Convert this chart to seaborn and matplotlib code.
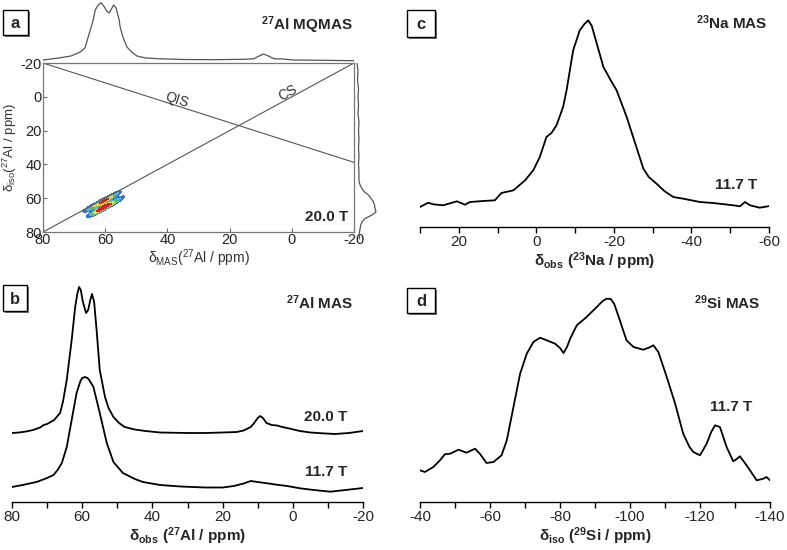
import numpy as np
import pandas as pd
import seaborn as sns
import matplotlib as mpl
import matplotlib.pyplot as plt
from matplotlib.colors import ListedColormap
from matplotlib.patches import Rectangle
from matplotlib.ticker import MultipleLocator

# --- datos ---
# a) 27Al MQMAS: proyeccion superior (dimension MAS)
top_ppm = [80, 75, 71, 68, 66.5, 65, 64, 63.2, 62.3, 61.3, 60.5, 59.5, 58.7, 58, 57.3, 56.5,
           55.5, 55.2, 54.2, 53, 51.5, 49.8, 47, 43, 35, 25, 15, 12.2, 10.5, 9.1, 7.5, 5.8,
           3, -0.6, -10, -20]
top_int = [2, 4, 6, 10, 14, 30, 40, 52, 57, 59.3, 56, 51, 49, 53, 57, 54,
           42, 35, 24, 15, 10, 6, 4, 3.3, 2.5, 2.3, 2.7, 3.3, 6, 8, 6, 3.3,
           3, 2, 1.7, 1.3]
# proyeccion derecha (dimension isotropica)
right_ppm = [-20, -15, -10, -5, 0, 5, 10, 15, 20, 25, 30, 35, 40, 45, 50, 52, 54, 56, 58,
             60, 62, 64, 66, 68, 70, 72, 74, 76, 80, 84]
right_int = [3, 4, 3.5, 4.5, 4, 4.5, 4, 5, 4.5, 5, 4.5, 5, 4.5, 5, 5, 6, 7.7, 10, 14.3,
             17, 19.3, 20.5, 21, 22, 17.7, 11, 8, 6.7, 5.5, 5.3]
# muestras de la senal 2D (cresta del pico)
mq_x = [65.5, 64.5, 63.5, 62.5, 61.5, 61, 60.5, 60, 59.5, 58.5, 57.5, 56.5, 55.5]
mq_y = [66.5, 69.5, 64.5, 68.0, 62.5, 66.0, 64.5, 61.5, 64.5, 59.5, 63.0, 57.5, 60.5]
# lineas CS y QIS
cs_x = [80, -20]
cs_y = [80, -20]
qis_x = [80, -20]
qis_y = [-20, 38.8]

# b) 27Al MAS
al20_ppm = [80, 78, 76, 74, 72, 71, 70, 68, 66.3, 65.5, 64.4, 63, 62, 61.4, 60.9, 60.4, 59.8,
            58.9, 58.3, 57.7, 57.2, 56.6, 55.9, 55, 53.5, 52.5, 51.1, 49.5, 47.9, 45, 42, 37.8,
            30, 25, 20, 16, 14, 12, 11, 10, 9.3, 8.5, 7.5, 6, 4.5, 3, 1, -2, -5, -8, -12, -16, -20]
al20_int = [69, 69.5, 70.5, 72, 74.5, 77, 78, 82, 89, 100, 122, 162, 195, 208, 215, 212, 200,
            189, 192, 202, 208, 200, 172, 132, 105, 94, 85, 79, 75, 72.5, 71, 69.5,
            69, 69, 69.5, 70, 71.5, 75, 79, 84, 86, 84, 79, 77, 76.5, 75, 73.5, 71, 69.5, 68.8, 68, 69, 71]
al11_ppm = [80, 77, 73, 70, 68.2, 67, 65.8, 64.4, 63, 61.6, 60.5, 60, 59.2, 58.5, 58, 56.8, 55,
            53, 51.1, 48.4, 45, 42.7, 37.8, 32, 25, 20, 16.8, 14, 12, 10, 7.3, 4, 1.6, -2, -6,
            -10.7, -15, -20]
al11_int = [15, 17, 20, 24, 27, 32, 39, 55, 82, 109, 121, 124, 125, 124, 122, 115, 89,
            59, 40, 29, 23, 20, 17, 15.5, 14.5, 14.5, 16, 18.5, 21, 20, 18.7, 17, 16, 13.7, 12,
            10.3, 12, 14]

# c) 23Na MAS
na_ppm = [30, 27.9, 26.6, 24, 20.5, 18.4, 17.1, 13.7, 10.7, 9, 5.9, 2.9, 0.8, -0.9, -2.6, -3.9,
          -5.2, -6.9, -7.8, -9.5, -11.2, -12.4, -13.4, -14.3, -15.1, -17.3, -19, -20.7, -23.3,
          -25.8, -27.6, -29, -31, -33, -35.3, -37.9, -42.2, -45.6, -50.8, -52.5, -53.8, -55.1,
          -57.6, -60.2]
na_int = [20, 24.3, 22.7, 21.7, 25.7, 22.3, 25, 26, 26.7, 34, 36.7, 46.7, 56.7, 70, 90, 94,
          101.7, 120, 136.7, 176.7, 196.7, 203, 206.7, 201, 190, 160, 148, 136.7, 110,
          80, 58.3, 50, 43.3, 36, 30, 28.3, 25, 24, 21.7, 20.7, 25, 21.7,
          19.3, 21]

# d) 29Si MAS
si_ppm = [-40, -41.4, -43.8, -45.7, -47.1, -48.6, -51, -53.3, -55.7, -57.1, -59, -61, -63.3,
          -64.8, -66.7, -68.6, -70.5, -72.4, -74.3, -76.2, -78.6, -80, -81, -82, -82.9, -84.8,
          -87.6, -90.5, -92.2, -93.3, -94.5, -95.5, -97.1, -99, -101, -103.8, -105.5, -106.7,
          -108.1, -110.5, -112.9, -115.2, -117, -118.1, -120, -121.9, -123.2, -124.3, -125.7,
          -127.6, -129.5, -130.5, -131.4, -133.3, -136.2, -138.1, -139, -140]
si_int = [31.7, 30, 35, 41.7, 47.7, 48.3, 52.3, 49.3, 53.3, 48.3, 39, 40, 46.7,
          61.7, 95, 128.3, 148.3, 160, 164.3, 161.7, 158.3, 154, 149, 155, 163.3, 176.7,
          185, 195, 201, 203.3, 203, 198, 181.7, 161.7, 155, 152.3, 154.5, 156.7,
          150, 125, 98.3, 68.3, 55, 50, 46.7, 58.3, 70, 76.7, 75,
          55, 40.7, 43, 45.7, 36.7, 21.7, 23.3, 25, 21.7]

# --- estilo ---
sns.set_style("white")
plt.rcParams['font.family'] = ['Liberation Sans', 'DejaVu Sans']
plt.rcParams['mathtext.fontset'] = 'custom'
plt.rcParams['mathtext.rm'] = 'Liberation Sans'
plt.rcParams['mathtext.bf'] = 'Liberation Sans:bold'
plt.rcParams['mathtext.it'] = 'Liberation Sans:italic'
plt.rcParams['axes.unicode_minus'] = False

W, H = 787, 550
fig = plt.figure(figsize=(W / 100, H / 100), dpi=100)


def px_axes(left, top, right, bottom):
    return fig.add_axes([left / W, 1 - bottom / H, (right - left) / W, (bottom - top) / H])


def ftext(x, y, s, **kw):
    fig.text(x / W, 1 - y / H, s, **kw)


def letter_box(x0, y0, x1, y1, s):
    fig.patches.append(Rectangle(((x0 + 2) / W, 1 - (y1 + 2) / H), (x1 - x0) / W, (y1 - y0) / H,
                                 transform=fig.transFigure, facecolor='#777777', edgecolor='none'))
    fig.patches.append(Rectangle((x0 / W, 1 - y1 / H), (x1 - x0) / W, (y1 - y0) / H,
                                 transform=fig.transFigure, facecolor='white', edgecolor='black', lw=1))
    ftext((x0 + x1) / 2, (y0 + y1) / 2 + 1, s, ha='center', va='center', fontsize=12, fontweight='bold')


def spectrum_axes(ax, xmin, xmax, ymax, major, minor):
    ax.set_xlim(xmin, xmax)
    ax.set_ylim(0, ymax)
    for side in ['top', 'right', 'left']:
        ax.spines[side].set_visible(False)
    ax.spines['bottom'].set_color('black')
    ax.spines['bottom'].set_linewidth(1)
    ax.set_yticks([])
    ax.xaxis.set_major_locator(MultipleLocator(major))
    ax.xaxis.set_minor_locator(MultipleLocator(minor))
    ax.tick_params(axis='x', which='both', direction='out', length=4, width=1, color='black',
                   labelsize=11, bottom=True, pad=2)
    ax.set_xlabel('')
    ax.set_ylabel('')
    ax.patch.set_alpha(0)


# ---------- panel a ----------
ax_a = px_axes(43, 63, 354, 232)
ax_a.set_xlim(80, -20)
ax_a.set_ylim(80, -20)
contour_cmap = ListedColormap(['#3a6fd8', '#48b8e0', '#5cc05a', '#e8d84a', '#f08a30', '#e02020'])
sns.kdeplot(x=mq_x, y=mq_y, ax=ax_a, fill=True, cmap=contour_cmap, levels=6,
            thresh=0.15, bw_adjust=0.85)
sns.lineplot(x=cs_x, y=cs_y, ax=ax_a, color='#555555', lw=0.8, sort=False, estimator=None)
sns.lineplot(x=qis_x, y=qis_y, ax=ax_a, color='#555555', lw=0.8, sort=False, estimator=None)
ax_a.set_xlim(80, -20)
ax_a.set_ylim(80, -20)
ax_a.set_xticks([80, 60, 40, 20, 0, -20])
ax_a.set_yticks([-20, 0, 20, 40, 60, 80])
ax_a.tick_params(direction='in', length=3, width=0.8, color='#666666', labelsize=10.5, pad=1,
                 bottom=True, left=True, labelcolor='#222222')
for sp in ax_a.spines.values():
    sp.set_color('#777777')
    sp.set_linewidth(0.9)
ax_a.set_xlabel('δ$_{\\mathregular{MAS}}$($^{27}$Al / ppm)', fontsize=10, color='#333333', labelpad=0)
ax_a.set_ylabel('δ$_{\\mathregular{iso}}$($^{27}$Al / ppm)', fontsize=9.5, color='#333333')
ax_a.yaxis.set_label_coords(-0.078, 0.5)
ax_a.text(36.8, 1.9, 'QIS', rotation=-17.7, ha='center', va='center', fontsize=10,
          color='#333333', rotation_mode='anchor')
ax_a.text(1.3, -2.1, 'CS', rotation=28.6, ha='center', va='center', fontsize=10,
          color='#333333', rotation_mode='anchor')

ax_top = px_axes(43, 0, 354, 63)
sns.lineplot(x=top_ppm, y=top_int, ax=ax_top, color='#555555', lw=0.9, sort=False, estimator=None)
ax_top.set_xlim(80, -20)
ax_top.set_ylim(-1, 62)
ax_top.axis('off')

ax_right = px_axes(354, 63, 382, 240)
sns.lineplot(x=right_int, y=right_ppm, ax=ax_right, color='#555555', lw=0.9, sort=False,
             estimator=None, orient='y')
ax_right.set_xlim(0, 28)
ax_right.set_ylim(84.7, -20)
ax_right.axis('off')

ftext(353, 25, '$^{\\mathbf{27}}$Al MQMAS', ha='right', va='center', fontsize=11, fontweight='bold')
ftext(348, 217, '20.0 T', ha='right', va='center', fontsize=11, fontweight='bold')
letter_box(3, 10, 28, 35, 'a')

# ---------- panel b ----------
ax_b = px_axes(12, 282, 363, 502)
sns.lineplot(x=al20_ppm, y=al20_int, ax=ax_b, color='black', lw=1.3, sort=False, estimator=None)
sns.lineplot(x=al11_ppm, y=al11_int, ax=ax_b, color='black', lw=1.3, sort=False, estimator=None)
spectrum_axes(ax_b, 80, -20, 220, 20, 10)
ax_b.set_xlabel('δ$_{\\mathbf{obs}}$ ($^{\\mathbf{27}}$Al / ppm)', fontsize=11, fontweight='bold', labelpad=1)
ftext(353, 303, '$^{\\mathbf{27}}$Al MAS', ha='right', va='center', fontsize=11, fontweight='bold')
ftext(347, 417, '20.0 T', ha='right', va='center', fontsize=11, fontweight='bold')
ftext(347, 472, '11.7 T', ha='right', va='center', fontsize=11, fontweight='bold')
letter_box(3, 285, 27, 311, 'b')

# ---------- panel c ----------
ax_c = px_axes(420, 10, 769, 227)
sns.lineplot(x=na_ppm, y=na_int, ax=ax_c, color='black', lw=1.3, sort=False, estimator=None)
spectrum_axes(ax_c, 30, -60, 217, 20, 10)
ax_c.set_xlabel('δ$_{\\mathbf{obs}}$ ($^{\\mathbf{23}}$Na / ppm)', fontsize=11, fontweight='bold', labelpad=1)
ftext(767, 23, '$^{\\mathbf{23}}$Na MAS', ha='right', va='center', fontsize=11, fontweight='bold')
ftext(757, 185, '11.7 T', ha='right', va='center', fontsize=11, fontweight='bold')
letter_box(407, 10, 435, 37, 'c')

# ---------- panel d ----------
ax_d = px_axes(420, 282, 770, 502)
sns.lineplot(x=si_ppm, y=si_int, ax=ax_d, color='black', lw=1.3, sort=False, estimator=None)
spectrum_axes(ax_d, -40, -140, 220, 20, 10)
ax_d.set_xlabel('δ$_{\\mathbf{iso}}$ ($^{\\mathbf{29}}$Si / ppm)', fontsize=11, fontweight='bold', labelpad=1)
ftext(760, 303, '$^{\\mathbf{29}}$Si MAS', ha='right', va='center', fontsize=11, fontweight='bold')
ftext(752, 407, '11.7 T', ha='right', va='center', fontsize=11, fontweight='bold')
letter_box(407, 288, 435, 313, 'd')

fig.savefig('out.png', dpi=100)
